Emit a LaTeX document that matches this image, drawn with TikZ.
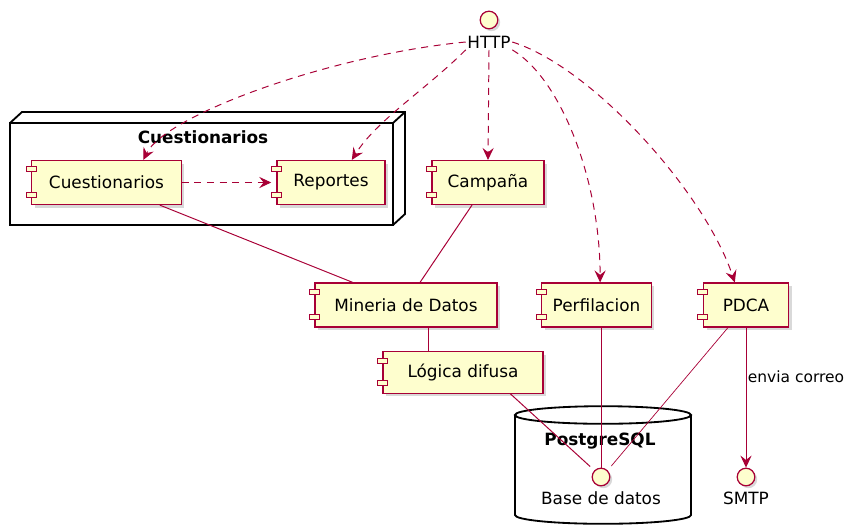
\documentclass[tikz,border=0pt]{standalone}
\usepackage{fontspec}
\setmainfont{DejaVu Sans}
\usetikzlibrary{arrows.meta,calc,shadows}
\definecolor{pumlfill}{HTML}{FEFECE}
\definecolor{pumlred}{HTML}{A80036}
\tikzset{
  comp/.style={draw=pumlred, fill=pumlfill, line width=0.8pt, minimum height=1.1cm,
    font=\fontsize{12}{14}\selectfont,
    drop shadow={shadow xshift=0.08cm, shadow yshift=-0.08cm, opacity=0.3}},
  tab/.style={draw=pumlred, fill=pumlfill, line width=0.8pt},
  iface/.style={circle, draw=pumlred, fill=pumlfill, line width=0.9pt, minimum size=0.44cm,
    inner sep=0pt, drop shadow={shadow xshift=0.06cm, shadow yshift=-0.06cm, opacity=0.3}},
  lbl/.style={font=\fontsize{12}{14}\selectfont, inner sep=1pt},
  title/.style={font=\fontsize{12}{14}\selectfont\bfseries},
  link/.style={draw=pumlred, line width=0.7pt},
  dep/.style={link, dash pattern=on 5pt off 4pt,
    -{Stealth[length=0.3cm, width=0.28cm, inset=0.11cm]}},
  frame/.style={draw=black, line width=1.3pt},
}
% the two small tabs of a component
\newcommand{\comptabs}[1]{%
  \draw[tab] ($(#1.north west)+(-5,7)$) rectangle ++(10,5);
  \draw[tab] ($(#1.south west)+(-5,-13)$) rectangle ++(10,5);
}

\begin{document}
\begin{tikzpicture}[x=0.025cm, y=-0.025cm]
        \useasboundingbox (0,0) rectangle (854,527);
        % Node box round the first two components.
            \draw[frame, fill=white] (10,123) rectangle (393,225);
            \draw[frame] (10,123) -- (22,112) -- (405,112) -- (405,214) -- (393,225);
            \draw[frame] (393,123) -- (405,112);
            \node[title] (pkgtitle) at (203,137) {Cuestionarios};
        % Database cylinder.
            \draw[frame, fill=white] (515,415) -- (515,515)
                arc[start angle=180, end angle=360, x radius=2.2cm, y radius=0.22cm] -- (691,415);
            \draw[frame] (603,415) ellipse [x radius=2.2cm, y radius=0.22cm];
            \node[title] (pgtitle) at (600,441) {PostgreSQL};
        % Components.
            \node[comp, minimum width=3.73cm] (cuest) at (106.5,182.5) {Cuestionarios};
            \node[comp, minimum width=2.7cm] (rep) at (331,182.5) {Reportes};
            \node[comp, minimum width=2.8cm] (camp) at (488,182.5) {Campaña};
            \node[comp, minimum width=4.55cm] (mineria) at (406,305) {Mineria de Datos};
            \node[comp, minimum width=2.73cm] (perf) at (596.5,305) {Perfilacion};
            \node[comp, minimum width=2.13cm] (pdca) at (746,305) {PDCA};
            \node[comp, minimum width=4cm, minimum height=1.03cm] (logica) at (463,372.5) {Lógica difusa};
            \foreach \c in {cuest,rep,camp,mineria,perf,pdca,logica}
                {\comptabs{\c}}
        % Interfaces and their labels.
            \node[iface] (http) at (489,20) {};
            \node[lbl] (httplbl) at (489,42) {HTTP};
            \node[iface] (base) at (601,477) {};
            \node[lbl] (baselbl) at (601,498) {Base de datos};
            \node[iface] (smtp) at (746,477) {};
            \node[lbl] (smtplbl) at (746,498) {SMTP};
        % Dashed uses from HTTP.
            \draw[dep] (httplbl.west) .. controls +(-135,13) and +(22,-45) .. ([xshift=0.92cm]cuest.north);
            \draw[dep] (httplbl.south west) .. controls +(-40,40) and +(25,-40) .. ([xshift=0.52cm]rep.north);
            \draw[dep] (httplbl.south) -- (camp.north);
            \draw[dep] (httplbl.south east) .. controls +(50,30) and +(0,-100) .. ([xshift=0.09cm]perf.north);
            \draw[dep] (httplbl.east) .. controls +(80,25) and +(-30,-90) .. ([xshift=-0.28cm]pdca.north);
            \draw[dep] (cuest.east) -- ([xshift=-0.13cm]rep.west);
        % Plain links.
            \draw[link] ([xshift=1.33cm]cuest.south) -- ([xshift=-1.33cm]mineria.north);
            \draw[link] ([xshift=-0.4cm]camp.south) -- ([xshift=0.35cm]mineria.north);
            \draw[link] ([xshift=0.55cm]mineria.south) -- ([xshift=0.55cm]mineria.south |- logica.north);
            \draw[link, shorten >=4pt] ([xshift=1.18cm]logica.south) -- (base.135);
            \draw[link] (perf.south -| base.north) -- (base.north);
            \draw[link, line width=0.5pt, shorten >=4pt] ([xshift=-0.45cm]pdca.south) -- (base.45);
            \draw[link, -{Stealth[length=0.3cm, width=0.28cm, inset=0.11cm]}] (pdca.south) --
                node[pos=0.35, right, font=\fontsize{11}{13}\selectfont, inner sep=1pt] {envia correo} (smtp.north);
    \end{tikzpicture}
\end{document}
